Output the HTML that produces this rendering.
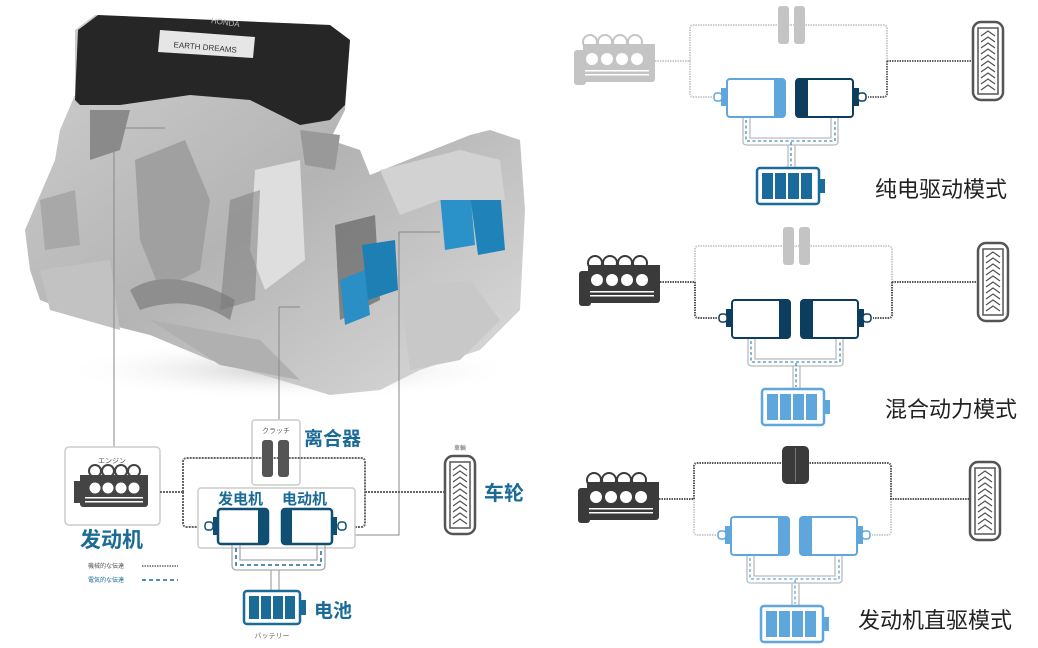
<!DOCTYPE html>
<html><head><meta charset="utf-8"><style>
html,body{margin:0;padding:0;background:#fff;width:1038px;height:648px;overflow:hidden}
svg{display:block}
text{font-family:"Liberation Sans","Noto Sans CJK SC",sans-serif}
</style></head><body>
<svg width="1038" height="648" viewBox="0 0 1038 648" xmlns="http://www.w3.org/2000/svg">
<defs>
<linearGradient id="sil" x1="0" y1="0" x2="1" y2="1">
<stop offset="0" stop-color="#d0d0d0"/><stop offset="0.5" stop-color="#b4b4b4"/><stop offset="1" stop-color="#dcdcdc"/></linearGradient>
<radialGradient id="sh" cx="0.5" cy="0.5" r="0.5"><stop offset="0" stop-color="#ccc"/><stop offset="1" stop-color="#fff" stop-opacity="0"/></radialGradient>
<g id="tire"><rect x="0" y="0" width="30" height="78" rx="8" fill="#fff" stroke="#555" stroke-width="2.5"/>
<rect x="5" y="6" width="20" height="66" fill="none" stroke="#555" stroke-width="1.5"/>
<path d="M8 14l7-5 7 5M8 20l7-5 7 5M8 26l7-5 7 5M8 32l7-5 7 5M8 38l7-5 7 5M8 44l7-5 7 5M8 50l7-5 7 5M8 56l7-5 7 5M8 62l7-5 7 5M8 68l7-5 7 5" fill="none" stroke="#555" stroke-width="1.3"/></g>
<g id="eng">
<g fill="currentColor">
<circle cx="590" cy="42" r="8"/><circle cx="605" cy="42" r="8"/><circle cx="620" cy="42" r="8"/><circle cx="635" cy="42" r="8"/>
<rect x="583" y="44" width="72" height="38" rx="3"/><rect x="574" y="50" width="12" height="35" rx="3"/></g>
<g fill="#fff"><circle cx="590" cy="42" r="6"/><circle cx="605" cy="42" r="6"/><circle cx="620" cy="42" r="6"/><circle cx="635" cy="42" r="6"/></g>
<rect x="583" y="44" width="72" height="5" fill="currentColor"/>
<g fill="#fff"><circle cx="592" cy="59" r="6"/><circle cx="607" cy="59" r="6"/><circle cx="622" cy="59" r="6"/><circle cx="637" cy="59" r="6"/><rect x="585" y="70" width="64" height="1.5"/><rect x="585" y="74" width="64" height="1.5"/></g>
</g>
</defs>

<!-- engine photo approximation -->
<ellipse cx="290" cy="370" rx="230" ry="30" fill="url(#sh)"/>
<path d="M25 230L55 160L60 130L75 95L75 30L95 15L330 25L350 40L345 110L330 140L360 150L370 175L420 155L470 135L490 130L520 140L525 210L520 310L480 350L420 370L380 390L330 395L280 380L210 360L150 335L90 320L40 300L30 270Z" fill="url(#sil)"/>
<path d="M75 100L78 30L98 15L330 25L350 40L345 105L330 120L300 125L250 100L190 95L120 105L80 105Z" fill="#262626"/>
<path d="M160 30L255 37L253 58L158 52Z" fill="#e6e6e6"/>
<text x="205" y="50" font-size="8" fill="#333" text-anchor="middle" transform="rotate(5 205 50)">EARTH DREAMS</text>
<text x="225" y="25" font-size="8" fill="#bbb" text-anchor="middle" transform="rotate(8 225 25)">HONDA</text>
<path d="M135 160L185 140L210 200L200 270L160 290L140 240Z" fill="#a0a0a0"/>
<path d="M130 290C160 270 200 280 235 300L230 320C200 300 170 300 140 310Z" fill="#8e8e8e"/>
<path d="M40 200L75 190L80 245L45 250Z" fill="#a8a8a8"/>
<path d="M40 270L110 260L120 330L50 310Z" fill="#c2c2c2"/>
<path d="M255 170L300 160L305 260L265 290L250 250Z" fill="#dedede"/>
<path d="M230 200L260 190L255 300L220 310Z" fill="#777" opacity="0.5"/>
<path d="M335 225L375 215L380 300L340 320Z" fill="#555" opacity="0.6"/>
<path d="M340 280L365 270L370 315L345 325Z" fill="#2a8fc4"/>
<path d="M362 245L395 240L398 290L368 300Z" fill="#1d7fb4"/>
<path d="M440 195L470 190L475 245L445 250Z" fill="#2a92c8"/>
<path d="M470 195L500 190L505 250L478 255Z" fill="#1f82b8"/>
<path d="M380 170L460 150L500 160L505 200L440 200L400 215Z" fill="#d2d2d2"/>
<path d="M400 290L470 280L500 320L460 360L410 370Z" fill="#c8c8c8"/>
<path d="M150 320L260 340L300 380L220 365Z" fill="#b0b0b0"/>
<path d="M90 110L130 110L120 150L90 160Z" fill="#8a8a8a"/>
<path d="M300 130L340 135L335 170L305 165Z" fill="#999"/>

<!-- callout lines -->
<g stroke="#888" stroke-width="1" fill="none">
<path d="M114 128H165M114 128V447"/>
<path d="M279 307H300M279 307V420"/>
<path d="M399 232H440M399 232V535H355"/>
</g>

<!-- left diagram -->
<g>
<rect x="65" y="447" width="95" height="78" rx="4" fill="#fff" stroke="#ccc" stroke-width="1.5"/>
<text x="112" y="463" font-size="7" fill="#555" text-anchor="middle">エンジン</text>
<g fill="#444">
<circle cx="95" cy="471" r="7"/><circle cx="108" cy="471" r="7"/><circle cx="121" cy="471" r="7"/><circle cx="134" cy="471" r="7"/>
<rect x="80" y="475" width="68" height="32" rx="3"/>
<rect x="74" y="481" width="8" height="22"/>
</g>
<g fill="#fff"><circle cx="95" cy="471" r="5"/><circle cx="108" cy="471" r="5"/><circle cx="121" cy="471" r="5"/><circle cx="134" cy="471" r="5"/></g>
<g fill="#444"><rect x="80" y="475" width="68" height="6"/></g>
<g fill="#fff"><circle cx="95" cy="488" r="5.5"/><circle cx="108" cy="488" r="5.5"/><circle cx="121" cy="488" r="5.5"/><circle cx="134" cy="488" r="5.5"/>
<rect x="85" y="497" width="58" height="1.5"/><rect x="85" y="501" width="58" height="1.5"/></g>
<text x="80" y="547" font-size="21" font-weight="bold" fill="#1b6b97">发动机</text>
<text x="88" y="568" font-size="6" fill="#555">機械的な伝達</text>
<line x1="142" y1="566" x2="178" y2="566" stroke="#666" stroke-width="1.5" stroke-dasharray="1.5 1"/>
<text x="88" y="582" font-size="6" fill="#1b6b97">電気的な伝達</text>
<line x1="142" y1="580" x2="178" y2="580" stroke="#1b6b97" stroke-width="1.5" stroke-dasharray="4 3"/>

<rect x="252" y="420" width="48" height="65" rx="3" fill="#fff" stroke="#ccc" stroke-width="1.5"/>
<text x="276" y="433" font-size="7" fill="#555" text-anchor="middle">クラッチ</text>
<g stroke="#666" stroke-width="2" stroke-dasharray="2 1" fill="none">
<path d="M160 492H183M183 492V462Q183 458 187 458H361Q365 458 365 462V523Q365 527 361 527H350"/>
<path d="M183 492V523Q183 527 187 527H206"/>
<path d="M365 492H445"/>
</g>
<rect x="262" y="440" width="11" height="37" rx="3" fill="#555"/>
<rect x="278" y="440" width="11" height="37" rx="3" fill="#555"/>
<text x="304" y="445" font-size="19" font-weight="bold" fill="#1b6b97">离合器</text>
<rect x="198" y="488" width="157" height="60" rx="3" fill="#fff" stroke="#ccc" stroke-width="1.5"/>
<text x="218" y="504" font-size="15" font-weight="bold" fill="#1b6b97">发电机</text>
<text x="282" y="504" font-size="15" font-weight="bold" fill="#1b6b97">电动机</text>
<g stroke="#0f4f73" stroke-width="2.5" fill="#fff">
<rect x="218" y="509" width="50" height="35" rx="3"/><rect x="282" y="509" width="50" height="35" rx="3"/>
<rect x="205" y="522" width="8" height="8" rx="3" stroke-width="1.5"/><rect x="338" y="522" width="8" height="8" rx="3" stroke-width="1.5"/>
</g>
<rect x="213" y="517" width="6" height="18" fill="#0f4f73"/><rect x="331" y="517" width="6" height="18" fill="#0f4f73"/>
<rect x="258" y="510" width="9" height="33" fill="#0f4f73"/><rect x="283" y="510" width="9" height="33" fill="#0f4f73"/>
<g fill="none" stroke="#aaa" stroke-width="1.3">
<path d="M232 545V565Q232 570 237 570H320Q325 570 325 565V545"/>
<path d="M240 545V560H317V545"/>
<path d="M271 570V590M279 570V590"/>
</g>
<path d="M236 548V565H321V548" fill="none" stroke="#1b6b97" stroke-width="1.5" stroke-dasharray="4 3"/>
<rect x="244" y="591" width="56" height="33" rx="3" fill="#fff" stroke="#1b6b97" stroke-width="2.5"/>
<g fill="#1b6b97"><rect x="249" y="596" width="10" height="23"/><rect x="261" y="596" width="10" height="23"/><rect x="273" y="596" width="10" height="23"/><rect x="285" y="596" width="10" height="23"/><rect x="301" y="600" width="5" height="15"/></g>
<text x="314" y="617" font-size="19" font-weight="bold" fill="#1b6b97">电池</text>
<text x="272" y="638" font-size="7" fill="#666" text-anchor="middle">バッテリー</text>
<text x="460" y="450" font-size="6" fill="#666" text-anchor="middle">車輪</text>
<use href="#tire" x="445" y="456"/>
<text x="484" y="500" font-size="20" font-weight="bold" fill="#1b6b97">车轮</text>
</g>

<!-- Diagram 1 -->
<g transform="translate(0,0)">
<use href="#eng" style="color:#c4c4c4"/>
<g fill="none" stroke="#ccc" stroke-width="2" stroke-dasharray="1.5 1"><path d="M655 61H690M690 61V94Q690 97 694 97H712M690 61V28Q690 25 694 25H883Q887 25 887 29V61"/></g>
<g fill="none" stroke="#666" stroke-width="2" stroke-dasharray="1.5 1"><path d="M887 61H973M887 61V94Q887 97 883 97H868"/></g>
<rect x="778" y="6" width="11" height="38" rx="3" fill="#c4c4c4"/><rect x="794" y="6" width="11" height="38" rx="3" fill="#c4c4c4"/>
<rect x="727" y="79" width="58" height="38" rx="3" fill="#fff" stroke="#5fa6dd" stroke-width="2"/>
<rect x="774" y="80" width="10" height="36" fill="#5fa6dd"/>
<rect x="721" y="88" width="6" height="18" fill="#5fa6dd"/><rect x="714" y="93" width="8" height="8" rx="3" fill="#fff" stroke="#5fa6dd" stroke-width="1.5"/>
<rect x="796" y="79" width="57" height="38" rx="3" fill="#fff" stroke="#0d3d5e" stroke-width="2"/>
<rect x="797" y="80" width="11" height="36" fill="#0d3d5e"/>
<rect x="853" y="88" width="6" height="18" fill="#0d3d5e"/><rect x="858" y="93" width="8" height="8" rx="3" fill="#fff" stroke="#0d3d5e" stroke-width="1.5"/>
<g fill="none" stroke="#bbb" stroke-width="1.3"><path d="M743 118V142Q743 145 747 145H834Q838 145 838 142V118"/><path d="M750 118V138H831V118"/><path d="M788 145V167M795 145V167"/></g>
<path d="M746 120V141H835V120M791 142V166" fill="none" stroke="#3d8fc8" stroke-width="1.3" stroke-dasharray="3 2.5"/>
<rect x="757" y="168" width="62" height="36" rx="3" fill="#fff" stroke="#1a6a9c" stroke-width="2.5"/>
<g fill="#1a6a9c"><rect x="762" y="173" width="11" height="26"/><rect x="775" y="173" width="11" height="26"/><rect x="788" y="173" width="11" height="26"/><rect x="801" y="173" width="11" height="26"/><rect x="820" y="179" width="5" height="14"/></g>
<use href="#tire" x="973" y="22"/>
<text x="875" y="197" font-size="22" fill="#222" font-family="Noto Sans CJK SC">纯电驱动模式</text>
</g>

<!-- Diagram 2 -->
<g transform="translate(5,221)">
<use href="#eng" style="color:#3a3a3a"/>
<g fill="none" stroke="#ccc" stroke-width="2" stroke-dasharray="1.5 1"><path d="M690 61V28Q690 25 694 25H883Q887 25 887 29V61"/></g>
<g fill="none" stroke="#555" stroke-width="2" stroke-dasharray="1.5 1"><path d="M655 61H690V94Q690 97 694 97H712M887 61H973M887 61V94Q887 97 883 97H868"/></g>
<rect x="778" y="6" width="11" height="38" rx="3" fill="#c4c4c4"/><rect x="794" y="6" width="11" height="38" rx="3" fill="#c4c4c4"/>
<rect x="727" y="79" width="58" height="38" rx="3" fill="#fff" stroke="#0d3d5e" stroke-width="2"/>
<rect x="774" y="80" width="10" height="36" fill="#0d3d5e"/>
<rect x="721" y="88" width="6" height="18" fill="#0d3d5e"/><rect x="714" y="93" width="8" height="8" rx="3" fill="#fff" stroke="#0d3d5e" stroke-width="1.5"/>
<rect x="796" y="79" width="57" height="38" rx="3" fill="#fff" stroke="#0d3d5e" stroke-width="2"/>
<rect x="797" y="80" width="11" height="36" fill="#0d3d5e"/>
<rect x="853" y="88" width="6" height="18" fill="#0d3d5e"/><rect x="858" y="93" width="8" height="8" rx="3" fill="#fff" stroke="#0d3d5e" stroke-width="1.5"/>
<g fill="none" stroke="#bbb" stroke-width="1.3"><path d="M743 118V142Q743 145 747 145H834Q838 145 838 142V118"/><path d="M750 118V138H831V118"/><path d="M788 145V167M795 145V167"/></g>
<path d="M746 120V141H835V120M791 142V166" fill="none" stroke="#3d8fc8" stroke-width="1.3" stroke-dasharray="3 2.5"/>
<rect x="757" y="168" width="62" height="36" rx="3" fill="#fff" stroke="#5fa6dd" stroke-width="2.5"/>
<g fill="#5fa6dd"><rect x="762" y="173" width="11" height="26"/><rect x="775" y="173" width="11" height="26"/><rect x="788" y="173" width="11" height="26"/><rect x="801" y="173" width="11" height="26"/><rect x="820" y="179" width="5" height="14"/></g>
<use href="#tire" x="973" y="22"/>
<text x="880" y="196" font-size="22" fill="#222" font-family="Noto Sans CJK SC">混合动力模式</text>
</g>

<!-- Diagram 3 -->
<g transform="translate(4,438)">
<use href="#eng" style="color:#3a3a3a"/>
<g fill="none" stroke="#ccc" stroke-width="2" stroke-dasharray="1.5 1"><path d="M690 61V94Q690 97 694 97H712M887 61V94Q887 97 883 97H868"/></g>
<g fill="none" stroke="#555" stroke-width="2" stroke-dasharray="1.5 1"><path d="M655 61H690V28Q690 25 694 25H883Q887 25 887 29V61H966"/></g>
<rect x="778" y="8" width="27" height="38" rx="5" fill="#3a3a3a"/><line x1="791.5" y1="10" x2="791.5" y2="44" stroke="#777" stroke-width="1"/>
<rect x="727" y="79" width="58" height="38" rx="3" fill="#fff" stroke="#5fa6dd" stroke-width="2"/>
<rect x="774" y="80" width="10" height="36" fill="#5fa6dd"/>
<rect x="721" y="88" width="6" height="18" fill="#5fa6dd"/><rect x="714" y="93" width="8" height="8" rx="3" fill="#fff" stroke="#5fa6dd" stroke-width="1.5"/>
<rect x="796" y="79" width="57" height="38" rx="3" fill="#fff" stroke="#5fa6dd" stroke-width="2"/>
<rect x="797" y="80" width="11" height="36" fill="#5fa6dd"/>
<rect x="853" y="88" width="6" height="18" fill="#5fa6dd"/><rect x="858" y="93" width="8" height="8" rx="3" fill="#fff" stroke="#5fa6dd" stroke-width="1.5"/>
<g fill="none" stroke="#bbb" stroke-width="1.3"><path d="M743 118V142Q743 145 747 145H834Q838 145 838 142V118"/><path d="M750 118V138H831V118"/><path d="M788 145V167M795 145V167"/></g>
<path d="M746 120V141H835V120M791 142V166" fill="none" stroke="#5fa6dd" stroke-width="1.3" stroke-dasharray="3 2.5"/>
<rect x="757" y="168" width="62" height="36" rx="3" fill="#fff" stroke="#5fa6dd" stroke-width="2.5"/>
<g fill="#5fa6dd"><rect x="762" y="173" width="11" height="26"/><rect x="775" y="173" width="11" height="26"/><rect x="788" y="173" width="11" height="26"/><rect x="801" y="173" width="11" height="26"/><rect x="820" y="179" width="5" height="14"/></g>
<use href="#tire" x="966" y="24"/>
<text x="854" y="190" font-size="22" fill="#222" font-family="Noto Sans CJK SC">发动机直驱模式</text>
</g>
</svg>
</body></html>
